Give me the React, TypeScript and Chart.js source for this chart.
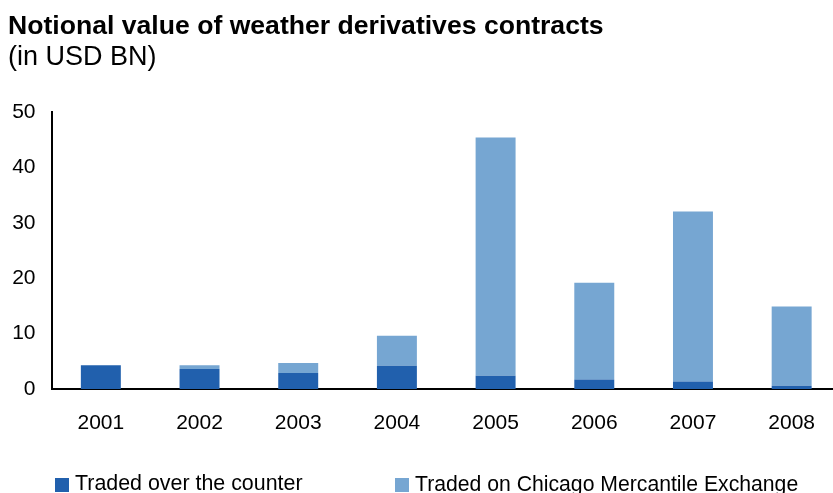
import React, { useEffect, useRef } from "react";
import { Chart, registerables } from "chart.js";

Chart.register(...registerables);

const categories = ["2001", "2002", "2003", "2004", "2005", "2006", "2007", "2008"];
const otcValues = [4.3, 3.6, 2.9, 4.2, 2.4, 1.7, 1.35, 0.6];
const cmeValues = [0, 0.7, 1.8, 5.4, 43.0, 17.5, 30.7, 14.3];
const seriesNames = ["Traded over the counter", "Traded on Chicago Mercantile Exchange"];
const seriesColors = ["#2160AD", "#76A6D2"];
const titleText = "Notional value of weather derivatives contracts";
const subtitleText = "(in USD BN)";

const FONT = "'Liberation Sans', Arial, Helvetica, sans-serif";

export default function App() {
  const canvasRef = useRef<HTMLCanvasElement | null>(null);

  useEffect(() => {
    const canvas = canvasRef.current;
    if (!canvas) return;
    const chart = new Chart(canvas, {
      type: "bar",
      data: {
        labels: categories,
        datasets: [
          {
            label: seriesNames[0],
            data: otcValues,
            backgroundColor: seriesColors[0],
            borderWidth: 0,
            barPercentage: 0.405,
            categoryPercentage: 1,
          },
          {
            label: seriesNames[1],
            data: cmeValues,
            backgroundColor: seriesColors[1],
            borderWidth: 0,
            barPercentage: 0.405,
            categoryPercentage: 1,
          },
        ],
      },
      options: {
        responsive: false,
        animation: false,
        layout: { padding: { top: 112, left: 12, right: 1, bottom: 57 } },
        plugins: {
          legend: { display: false },
          title: { display: false },
          tooltip: { enabled: false },
        },
        scales: {
          x: {
            stacked: true,
            grid: { display: false, drawTicks: false },
            border: { display: true, color: "#000000", width: 2 },
            ticks: {
              color: "#000000",
              padding: 22,
              font: { family: FONT, size: 21 },
              maxRotation: 0,
            },
            afterFit: (scale: any) => {
              scale.height = 47;
            },
          },
          y: {
            stacked: true,
            min: 0,
            max: 50,
            grid: { display: false, drawTicks: false },
            border: { display: true, color: "#000000", width: 2 },
            ticks: {
              stepSize: 10,
              color: "#000000",
              padding: 16,
              font: { family: FONT, size: 21 },
            },
            afterFit: (scale: any) => {
              scale.width = 39.5;
            },
          },
        },
      },
    });
    return () => chart.destroy();
  }, []);

  const textBase: React.CSSProperties = {
    position: "absolute",
    fontFamily: FONT,
    color: "#000000",
    whiteSpace: "nowrap",
    margin: 0,
  };

  return (
    <div
      style={{
        position: "fixed",
        left: 0,
        top: 0,
        width: 833,
        height: 493,
        overflow: "hidden",
        background: "#ffffff",
      }}
    >
      <canvas ref={canvasRef} width={842} height={493} style={{ position: "absolute", left: 0, top: 0 }} />
      <div style={{ ...textBase, left: 8, top: 12, fontSize: 26.6, lineHeight: "27px", fontWeight: "bold" }}>
        {titleText}
      </div>
      <div style={{ ...textBase, left: 8, top: 43, fontSize: 27, lineHeight: "27px" }}>{subtitleText}</div>
      <div style={{ position: "absolute", left: 55, top: 478, width: 14, height: 14, background: seriesColors[0] }} />
      <div style={{ ...textBase, left: 75, top: 473, fontSize: 21.4, lineHeight: "21px" }}>{seriesNames[0]}</div>
      <div style={{ position: "absolute", left: 395, top: 478, width: 14, height: 14, background: seriesColors[1] }} />
      <div style={{ ...textBase, left: 415, top: 473, fontSize: 21.2, lineHeight: "21px" }}>{seriesNames[1]}</div>
    </div>
  );
}
